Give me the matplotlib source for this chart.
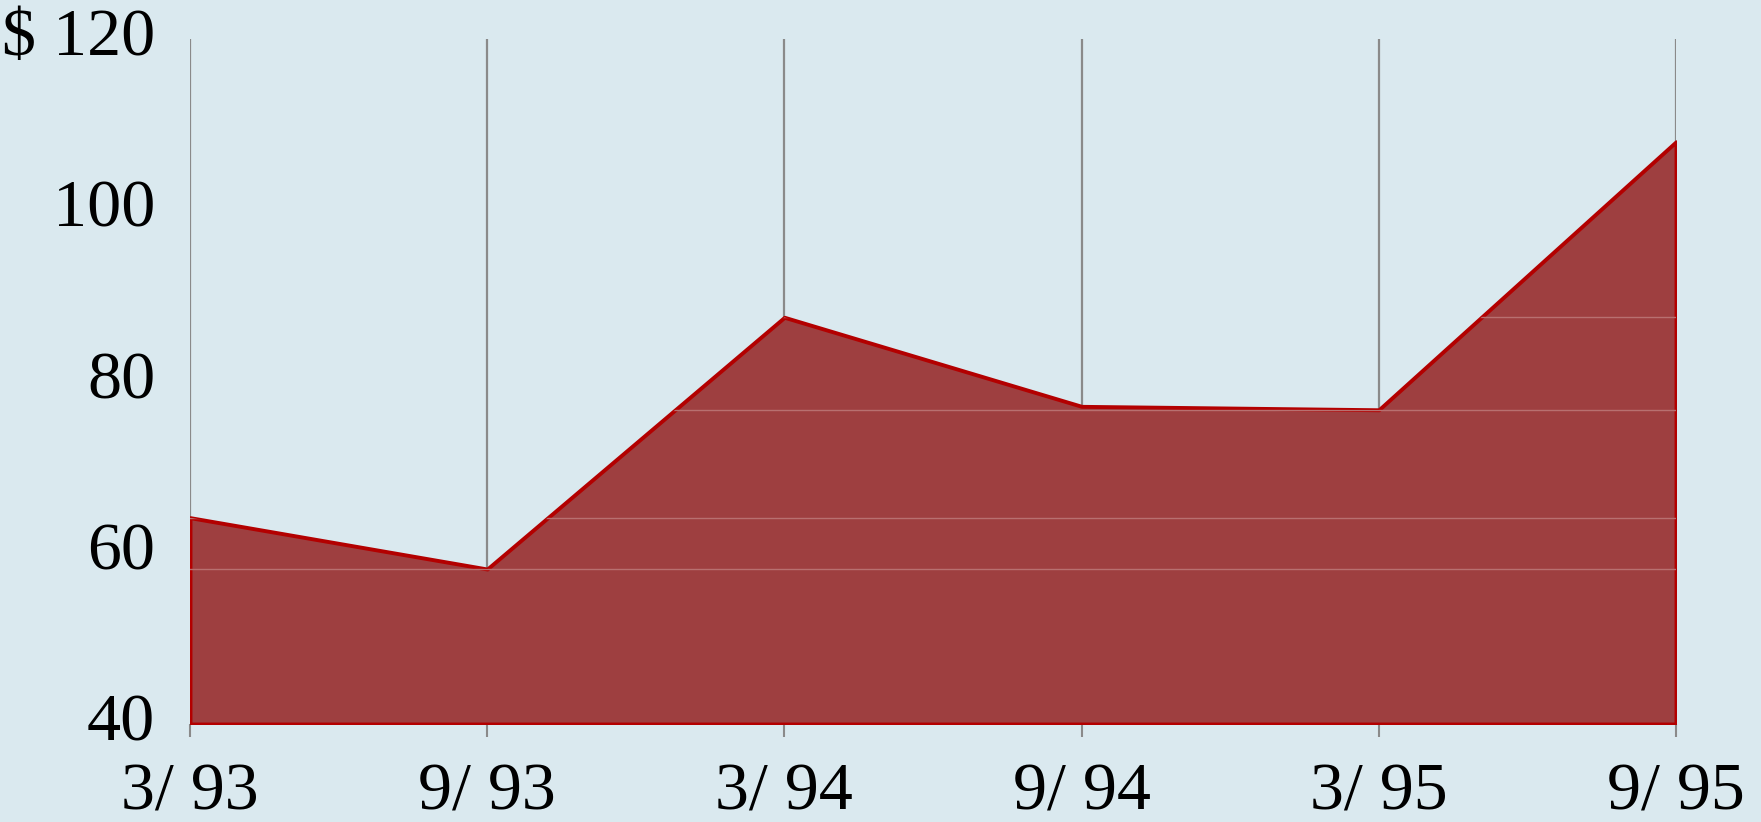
import matplotlib
matplotlib.use("Agg")
import matplotlib.pyplot as plt
import numpy as np

# data
periodi = ["3/ 93", "9/ 93", "3/ 94", "9/ 94", "3/ 95", "9/ 95"]
valori = [64.1, 58.1, 87.5, 77.1, 76.7, 108.0]
etichette_y = ["40", "60", "80", "100", "$ 120"]
livelli_y = [40, 60, 80, 100, 120]

sfondo = "#dae9ef"
riempimento = "#9e3f40"
bordo = "#b30000"

plt.rcParams["font.family"] = ["Liberation Serif", "DejaVu Serif"]

fig = plt.figure(figsize=(17.61, 8.22), dpi=100, facecolor=sfondo)
ax = fig.add_axes([190 / 1761, 1 - 724 / 822, (1676 - 190) / 1761, (724 - 39) / 822])
ax.set_facecolor(sfondo)

x = np.arange(len(periodi))
area = ax.fill_between(x, 40, valori, facecolor=riempimento, edgecolor=bordo,
                       linewidth=2.8, zorder=2)

# faint seams inside the filled area
path = area.get_paths()[0]
for v in [valori[0], valori[1], valori[2], valori[4]]:
    linea = ax.axhline(v, color="#b87070", linewidth=1.0, zorder=2.5)
    linea.set_clip_path(path, ax.transData)

ax.set_xlim(x[0], x[-1])
ax.set_ylim(40, 120)
ax.set_xticks(x)
ax.set_xticklabels(periodi, fontsize=49)
ax.set_yticks(livelli_y)
ax.set_yticklabels(etichette_y, fontsize=49, va="center")

ax.grid(axis="x", color="#8a8a8a", linewidth=1.6)
ax.set_axisbelow(True)
ax.tick_params(axis="x", length=9, width=1.5, color="#8a8a8a", pad=19)
ax.tick_params(axis="y", length=0, pad=25)
for s in ax.spines.values():
    s.set_visible(False)

plt.savefig("out.png", dpi=100, facecolor=sfondo)
plt.close()
